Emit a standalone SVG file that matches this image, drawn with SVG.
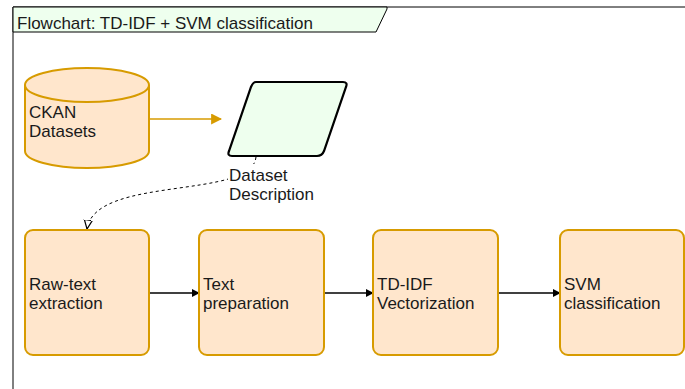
<svg xmlns="http://www.w3.org/2000/svg" width="685" height="389" viewBox="0 0 685 389">
<defs>
<style>
text{font-family:"Liberation Sans",Arial,sans-serif;font-size:17px;fill:#1a1a1a}
.box{fill:#ffe6cc;stroke:#d79b00;stroke-width:2}
.edge{fill:none;stroke:#000;stroke-width:1.3}
</style>
<marker id="ah" viewBox="0 0 10 10" refX="9" refY="5" markerWidth="8" markerHeight="8" orient="auto" markerUnits="userSpaceOnUse"><path d="M0,0 L10,5 L0,10 Z" fill="#000"/></marker>
<marker id="aho" viewBox="0 0 10 10" refX="9" refY="5" markerWidth="11" markerHeight="11" orient="auto" markerUnits="userSpaceOnUse"><path d="M0,0 L10,5 L0,10 Z" fill="#d79b00"/></marker>
<marker id="ahw" viewBox="0 0 10 10" refX="9" refY="5" markerWidth="10" markerHeight="10" orient="auto" markerUnits="userSpaceOnUse"><path d="M0,1 L9,5 L0,9 Z" fill="#fff" stroke="#000" stroke-width="1.2"/></marker>
</defs>
<rect width="685" height="389" fill="#fff"/>
<g id="frame">
<path d="M13,389 V7 H685" fill="none" stroke="#000" stroke-width="1"/>
<path d="M13,7 H387 V9 L376,32 H13 Z" fill="#eeffee" stroke="#000" stroke-width="1"/>
<text x="17" y="28.5">Flowchart: TD-IDF + SVM classification</text>
</g>
<g id="connectors">
<path d="M150,119 H221" fill="none" stroke="#d79b00" stroke-width="1.3" marker-end="url(#aho)"/>
<path d="M256,157 C252,200 95,175 87,229" fill="none" stroke="#000" stroke-width="1" stroke-dasharray="3,3" marker-end="url(#ahw)"/>
<path class="edge" d="M149,293 H199" marker-end="url(#ah)"/>
<path class="edge" d="M324,293 H373" marker-end="url(#ah)"/>
<path class="edge" d="M498,293 H560" marker-end="url(#ah)"/>
<rect x="228" y="164" width="66" height="21" fill="#fff"/>
<rect x="228" y="185" width="92" height="20" fill="#fff"/>
<text x="229" y="181">Dataset</text>
<text x="229" y="200">Description</text>
</g>
<g id="ckan">
<path d="M25,85 V151 A62,17 0 0 0 149,151 V85" class="box"/>
<ellipse cx="87" cy="85" rx="62" ry="17" class="box"/>
<text x="29" y="118">CKAN</text>
<text x="29" y="137">Datasets</text>
</g>
<g id="desc">
<path d="M256,82 H343 Q348,82 346,87 L324,151 Q322,156 317,156 H232 Q227,156 229,151 L251,87 Q253,82 256,82 Z" fill="#eeffee" stroke="#000" stroke-width="2.2"/>
</g>
<g id="raw"><rect class="box" x="25" y="230" width="124" height="125" rx="8"/><text x="29" y="290">Raw-text</text><text x="29" y="309">extraction</text></g>
<g id="prep"><rect class="box" x="199" y="230" width="125" height="125" rx="8"/><text x="203" y="290">Text</text><text x="203" y="309">preparation</text></g>
<g id="tfidf"><rect class="box" x="373" y="230" width="125" height="125" rx="8"/><text x="377" y="290">TD-IDF</text><text x="377" y="309">Vectorization</text></g>
<g id="svm"><rect class="box" x="560" y="230" width="124" height="125" rx="8"/><text x="564" y="290">SVM</text><text x="564" y="309">classification</text></g>
</svg>
